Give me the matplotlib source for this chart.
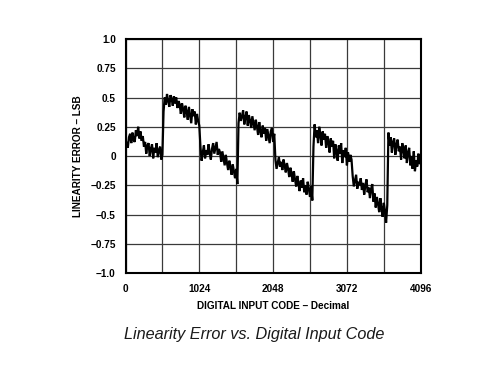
import numpy as np
import matplotlib
matplotlib.use("Agg")
import matplotlib.pyplot as plt
from matplotlib.ticker import MultipleLocator, FixedLocator

# Digital input codes (sampled every 16 codes)
codes = np.arange(0, 4097, 16)

# Linearity error (LSB), segment by segment
seg_a = [0.04, 0.12, 0.07, 0.16, 0.19, 0.11, 0.20, 0.14, 0.12, 0.22, 0.17, 0.25,
         0.15, 0.21, 0.13, 0.17, 0.08, 0.12, 0.02, 0.09, 0.11, 0.00, 0.06, 0.10,
         -0.02, 0.07, 0.03, 0.11, -0.01, 0.05, 0.08, -0.03, 0.01]
seg_b = [0.38, 0.50, 0.44, 0.53, 0.47, 0.42, 0.52, 0.49, 0.43, 0.51, 0.45, 0.50,
         0.41, 0.47, 0.44, 0.36, 0.45, 0.40, 0.33, 0.43, 0.38, 0.31, 0.42, 0.35,
         0.28, 0.40, 0.34, 0.38, 0.27, 0.36, 0.30, 0.26]
seg_c = [0.08, -0.04, 0.03, 0.09, -0.02, 0.05, 0.01, 0.10, 0.03, -0.03, 0.06, 0.11,
         0.02, 0.07, 0.12, 0.01, 0.06, 0.03, -0.05, 0.04, -0.02, -0.08, 0.01, -0.06,
         -0.12, -0.04, -0.09, -0.16, -0.07, -0.13, -0.19, -0.11, -0.24]
seg_d = [0.28, 0.37, 0.30, 0.34, 0.39, 0.27, 0.33, 0.38, 0.26, 0.35, 0.30, 0.24,
         0.34, 0.28, 0.22, 0.31, 0.25, 0.18, 0.29, 0.21, 0.16, 0.26, 0.19, 0.24,
         0.13, 0.23, 0.17, 0.11, 0.21, 0.24, 0.12, 0.19]
seg_e = [-0.03, -0.11, -0.06, -0.01, -0.09, -0.05, -0.12, -0.03, -0.08, -0.14, -0.06,
         -0.11, -0.18, -0.10, -0.15, -0.22, -0.13, -0.20, -0.26, -0.17, -0.24, -0.30,
         -0.21, -0.27, -0.19, -0.31, -0.25, -0.33, -0.22, -0.28, -0.35, -0.26, -0.38]
seg_f = [0.08, 0.27, 0.16, 0.22, 0.11, 0.25, 0.18, 0.09, 0.21, 0.14, 0.19, 0.07,
         0.17, 0.12, 0.03, 0.15, 0.08, 0.13, -0.02, 0.10, 0.04, -0.04, 0.09, 0.02,
         0.11, -0.06, 0.05, -0.01, 0.07, -0.08, 0.03, -0.05, 0.01, -0.03]
seg_g = [-0.17, -0.26, -0.21, -0.16, -0.28, -0.22, -0.25, -0.19, -0.29, -0.23, -0.33,
         -0.25, -0.20, -0.31, -0.27, -0.36, -0.28, -0.24, -0.39, -0.32, -0.44, -0.35,
         -0.41, -0.48, -0.36, -0.45, -0.52, -0.40, -0.47, -0.57, -0.42]
seg_h = [0.20, 0.09, 0.16, 0.03, 0.12, 0.15, 0.01, 0.10, 0.14, 0.04, 0.08, -0.03,
         0.11, 0.06, -0.02, 0.09, -0.06, 0.03, 0.07, -0.08, 0.00, -0.11, 0.04, -0.13,
         -0.04, -0.09, 0.02, -0.07, -0.03]
errors = seg_a + seg_b + seg_c + seg_d + seg_e + seg_f + seg_g + seg_h

x_ticks = [0, 1024, 2048, 3072, 4096]
x_tick_labels = ["0", "1024", "2048", "3072", "4096"]
y_ticks = [1.0, 0.75, 0.5, 0.25, 0, -0.25, -0.5, -0.75, -1.0]
y_tick_labels = ["1.0", "0.75", "0.5", "0.25", "0", "\u22120.25", "\u22120.5", "\u22120.75", "\u22121.0"]

plt.rcParams['font.family'] = ['Liberation Sans', 'DejaVu Sans']

fig = plt.figure(figsize=(5.0, 3.74), dpi=100)
ax = fig.add_axes([125.5 / 500, 1 - 273 / 374, (420.7 - 125.5) / 500, (273 - 39) / 374])

ax.plot(codes, errors, color='black', lw=1.6, solid_joinstyle='miter', zorder=3)

ax.set_xlim(0, 4096)
ax.set_ylim(-1.0, 1.0)
ax.xaxis.set_major_locator(FixedLocator(x_ticks))
ax.set_xticklabels(x_tick_labels)
ax.xaxis.set_minor_locator(MultipleLocator(512))
ax.set_yticks(y_ticks)
ax.set_yticklabels(y_tick_labels)

ax.grid(which='both', axis='x', color='#3a3a3a', lw=0.9)
ax.grid(which='major', axis='y', color='#3a3a3a', lw=0.9)
ax.tick_params(which='both', length=0)
ax.tick_params(axis='x', pad=8, labelsize=7.2)
ax.tick_params(axis='y', pad=7, labelsize=7.2)
for lbl in ax.get_xticklabels() + ax.get_yticklabels():
    lbl.set_fontweight('bold')

for s in ax.spines.values():
    s.set_linewidth(1.5)
    s.set_color('black')

ax.set_xlabel("DIGITAL INPUT CODE \u2013 Decimal", fontsize=7.2, fontweight='bold', labelpad=5)
ax.set_ylabel("LINEARITY ERROR \u2013 LSB", fontsize=7.2, fontweight='bold', labelpad=5)

fig.text(254 / 500, 1 - 334 / 374, "Linearity Error vs. Digital Input Code",
         ha='center', va='center', fontsize=11.7, style='italic', color='#1a1a1a')

fig.savefig("out.png", dpi=100)
